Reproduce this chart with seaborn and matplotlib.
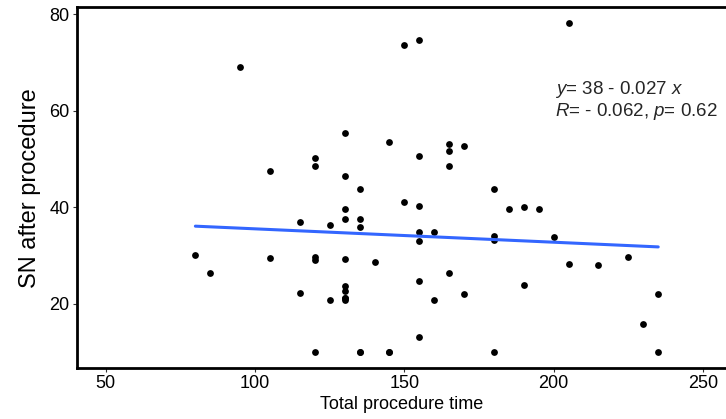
import matplotlib
matplotlib.use("Agg")
import matplotlib.pyplot as plt
import seaborn as sns
import pandas as pd

# procedure time (min) and SN after procedure
# (a few points sit exactly on top of others: 130/21.2, 135/10, 145/10)
proc_time = [80, 85, 95, 105, 105, 115, 115,
             120, 120, 120, 120, 120, 125, 125,
             130, 130, 130, 130, 130, 130, 130, 130, 130, 130,
             135, 135, 135, 135, 135, 140, 145, 145, 145, 150, 150,
             155, 155, 155, 155, 155, 155, 155, 160, 160,
             165, 165, 165, 165, 170, 170,
             180, 180, 180, 180, 185, 190, 190, 195, 200,
             205, 205, 215, 225, 230, 235, 235]
sn_after = [30.0, 26.4, 69.1, 47.5, 29.4, 36.9, 22.3,
            50.1, 48.5, 29.7, 29.0, 10.0, 36.3, 20.7,
            55.4, 46.5, 39.6, 37.5, 29.2, 23.7, 22.6, 21.2, 21.2, 20.7,
            43.8, 37.5, 35.9, 10.0, 10.0, 28.6, 53.5, 10.0, 10.0, 73.5, 41.0,
            74.7, 50.6, 40.2, 34.8, 32.9, 24.6, 13.1, 34.8, 20.7,
            53.0, 51.7, 48.5, 26.4, 52.6, 21.9,
            43.8, 34.0, 33.2, 10.0, 39.6, 40.1, 23.8, 39.6, 33.8,
            78.1, 28.2, 28.1, 29.7, 15.8, 21.9, 10.0]

eq_label = r"$\it{y}$= 38 - 0.027 $\it{x}$"
stat_label = r"$\it{R}$= - 0.062, $\it{p}$= 0.62"

df = pd.DataFrame({"time": proc_time, "sn": sn_after})

sns.set_theme(style="ticks")
plt.rcParams["font.family"] = ["Liberation Sans", "DejaVu Sans"]
plt.rcParams["mathtext.fontset"] = "custom"
plt.rcParams["mathtext.rm"] = "Liberation Sans"
plt.rcParams["mathtext.it"] = "Liberation Sans:italic"

fig = plt.figure(figsize=(7.26, 4.19), dpi=100)
ax = fig.add_axes([0.1054, 0.121, 0.8946, 0.8616])

sns.regplot(data=df, x="time", y="sn", ax=ax, ci=None,
            scatter_kws={"s": 24, "color": "black", "linewidths": 0, "alpha": 1},
            line_kws={"color": "#3366FF", "linewidth": 2.2})

ax.text(200.5, 63.5, eq_label, fontsize=13.5, ha="left", va="baseline")
ax.text(200.5, 58.8, stat_label, fontsize=13.5, ha="left", va="baseline")

ax.set_xlim(40.2, 257.7)
ax.set_ylim(6.6, 81.4)
ax.set_xticks([50, 100, 150, 200, 250])
ax.set_yticks([20, 40, 60, 80])
ax.set_xlabel("Total procedure time", fontsize=13, color="black", labelpad=3)
ax.set_ylabel("SN after procedure", fontsize=17, color="black", labelpad=6)
ax.tick_params(labelsize=13, length=3, width=0.8, color="#333333", labelcolor="black", pad=2)

for side in ["left", "bottom", "top"]:
    ax.spines[side].set_linewidth(2.0)
    ax.spines[side].set_color("black")
ax.spines["right"].set_visible(False)

fig.savefig("out.png", dpi=100)
